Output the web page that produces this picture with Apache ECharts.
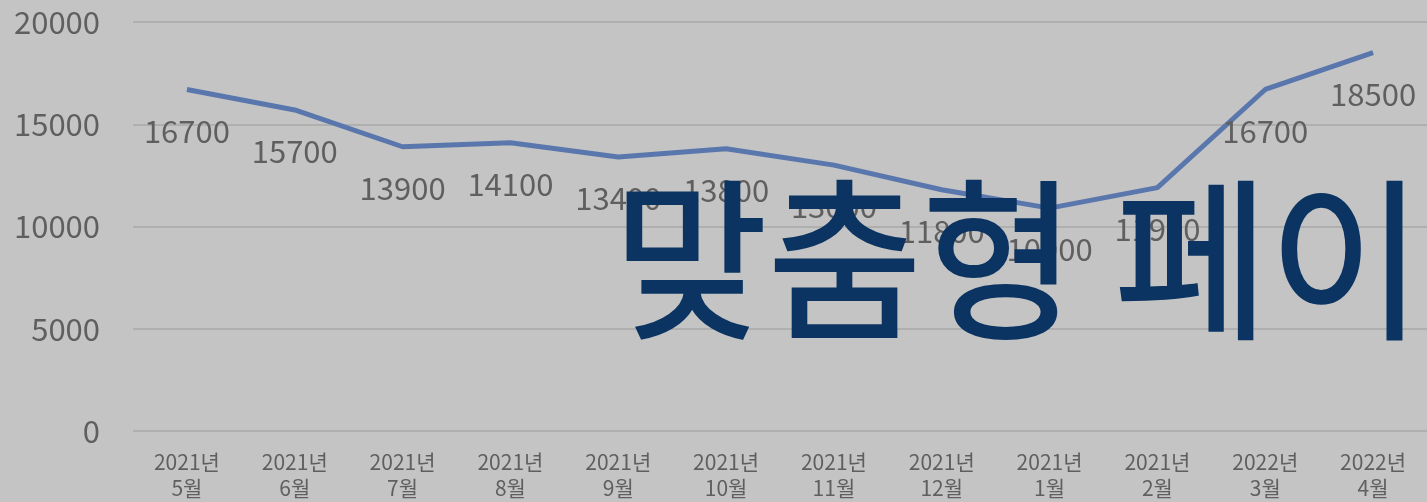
<!DOCTYPE html>
<html>
<head>
<meta charset="utf-8">
<script src="https://cdn.jsdelivr.net/npm/echarts@6/dist/echarts.min.js"></script>
<style>
html,body{margin:0;padding:0;background:#c4c4c4;}
#chart{width:1427px;height:502px;}
</style>
</head>
<body>
<div id="chart"></div>
<script>
const categories = ['2021년\n5월','2021년\n6월','2021년\n7월','2021년\n8월','2021년\n9월','2021년\n10월','2021년\n11월','2021년\n12월','2021년\n1월','2021년\n2월','2022년\n3월','2022년\n4월'];
const values = [16700, 15700, 13900, 14100, 13400, 13800, 13000, 11800, 10900, 11900, 16700, 18500];
const yTicks = [0, 5000, 10000, 15000, 20000];
const overlayText = '맞춤형 페이';

const chart = echarts.init(document.getElementById('chart'));
const FONT = '"Noto Sans CJK KR", "Noto Sans", sans-serif';
chart.setOption({
  backgroundColor: '#c4c4c4',
  animation: false,
  grid: {left: 133, right: -10, top: 22, bottom: 71},
  xAxis: {
    type: 'category',
    data: categories,
    boundaryGap: true,
    axisLine: {show: false},
    axisTick: {show: false},
    axisLabel: {color: '#5f5f5f', fontSize: 21, fontFamily: FONT, lineHeight: 26, margin: 18, interval: 0}
  },
  yAxis: {
    type: 'value',
    min: yTicks[0],
    max: yTicks[yTicks.length - 1],
    interval: 5000,
    axisLine: {show: false},
    axisTick: {show: false},
    splitLine: {lineStyle: {color: '#afafaf', width: 2}},
    axisLabel: {color: '#5f5f5f', fontSize: 31, fontFamily: FONT, margin: 33, formatter: v => String(v)}
  },
  series: [{
    type: 'line',
    data: values,
    symbol: 'circle',
    symbolSize: 0,
    showSymbol: true,
    itemStyle: {color: '#5a77ad'},
    lineStyle: {color: '#5a77ad', width: 5},
    label: {show: true, position: 'bottom', distance: 26, color: '#5f5f5f', fontSize: 31, fontFamily: FONT}
  }],
  graphic: [{
    type: 'text',
    left: 612,
    top: 172,
    z: 100,
    scaleY: 1.03,
    style: {text: overlayText, fill: '#0b3462', stroke: '#0b3462', lineWidth: 2, font: 'normal 168px "Noto Sans CJK KR", sans-serif'}
  }]
});
</script>
</body>
</html>
